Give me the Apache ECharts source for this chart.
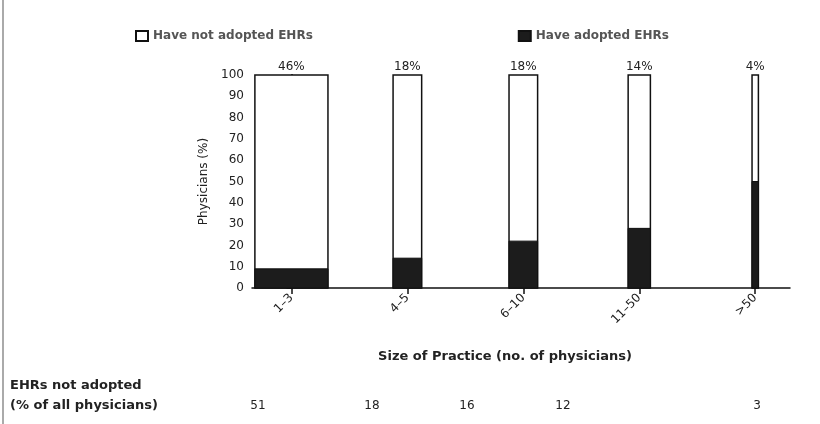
<!DOCTYPE html>
<html>
<head>
<meta charset="utf-8">
<script src="https://cdn.jsdelivr.net/npm/echarts@6/dist/echarts.min.js"></script>
<style>
  html, body { margin: 0; padding: 0; background: #fff; }
  #chart { width: 820px; height: 424px; }
</style>
</head>
<body>
<div id="chart"></div>
<script>
// practice size groups
var sizes = ['1\u20133', '4\u20135', '6\u201310', '11\u201350', '>50'];
// share of physicians in each group (bar width), %
var shares = [46, 18, 18, 14, 4];
// physicians that have adopted EHRs, %
var adopted = [9, 14, 22, 28, 50];
// EHRs not adopted, % of all physicians
var notAdoptedAll = [51, 18, 16, 12, 3];
var yTicks = [0, 100, 10]; // min, max, step

var chart = echarts.init(document.getElementById('chart'));
var font = 'DejaVu Sans';

function barItem(topKey) {
    return function (params, api) {
        var i = api.value(0);
        var top = api.value(1);
        var w = api.size([api.value(2) * 0.0137, 0])[0];
        var p0 = api.coord([i, 0]);
        var p1 = api.coord([i, top]);
        var children = [{
            type: 'rect',
            shape: { x: p0[0] - w / 2, y: p1[1], width: w, height: p0[1] - p1[1] },
            style: api.style()
        }];
        if (topKey) {
            children.push({
                type: 'text',
                style: {
                    text: shares[params.dataIndex] + '%',
                    x: p0[0], y: p1[1] - 2,
                    align: 'center', verticalAlign: 'bottom',
                    font: '12px ' + font, fill: '#222'
                }
            });
        }
        return { type: 'group', children: children };
    };
}

var graphics = [
    { type: 'line', shape: { x1: 3, y1: 0, x2: 3, y2: 424 }, style: { stroke: '#aaa', lineWidth: 2 } },
    { type: 'text', left: 10, top: 376, style: { text: 'EHRs not adopted\n(% of all physicians)', font: 'bold 13px ' + font, fill: '#222', lineHeight: 20 } }
];
var tableX = [258, 372, 467, 563, 757];
notAdoptedAll.forEach(function (v, i) {
    graphics.push({ type: 'text', x: tableX[i], y: 406, style: { text: String(v), font: '12px ' + font, fill: '#222', align: 'center', verticalAlign: 'middle' } });
});

var option = {
    backgroundColor: '#fff',
    animation: false,
    legend: {
        left: 130, top: 25,
        itemGap: 205, itemWidth: 12, itemHeight: 10,
        icon: 'rect',
        textStyle: { fontFamily: font, fontSize: 12, fontWeight: 'bold', color: '#555' },
        data: ['Have not adopted EHRs', 'Have adopted EHRs']
    },
    grid: { left: 252, right: 30, top: 75, bottom: 136 },
    xAxis: {
        type: 'value',
        min: -0.34, max: 4.3,
        splitLine: { show: false },
        axisLine: { lineStyle: { color: '#111', width: 1.5 } },
        axisTick: { show: true, customValues: [0, 1, 2, 3, 4], length: 6, lineStyle: { color: '#111', width: 1.5 } },
        axisLabel: {
            customValues: [0, 1, 2, 3, 4], rotate: 45, margin: 8,
            formatter: function (v) { return sizes[Math.round(v)]; },
            fontFamily: font, fontSize: 12, color: '#222'
        },
        name: 'Size of Practice (no. of physicians)',
        nameLocation: 'middle', nameGap: 62,
        nameTextStyle: { fontFamily: font, fontSize: 13, fontWeight: 'bold', color: '#222', padding: [0, 32, 0, 0] }
    },
    yAxis: {
        type: 'value',
        min: yTicks[0], max: yTicks[1], interval: yTicks[2],
        splitLine: { show: false },
        axisLine: { show: true, lineStyle: { color: '#111', width: 2 } },
        axisTick: { show: true, length: 5, lineStyle: { color: '#111' } },
        axisLabel: { fontFamily: font, fontSize: 12, color: '#222', margin: 8 },
        name: 'Physicians (%)',
        nameLocation: 'middle', nameGap: 40,
        nameTextStyle: { fontFamily: font, fontSize: 12, color: '#222' }
    },
    graphic: graphics,
    series: [
        {
            name: 'Have not adopted EHRs',
            type: 'custom',
            renderItem: barItem(true),
            itemStyle: { color: '#fff', borderColor: '#111', borderWidth: 1.5 },
            encode: { x: 0, y: 1 },
            data: sizes.map(function (s, i) { return [i, 100, shares[i]]; }),
            z: 2
        },
        {
            name: 'Have adopted EHRs',
            type: 'custom',
            renderItem: barItem(false),
            itemStyle: { color: '#1c1c1c', borderColor: '#111', borderWidth: 1 },
            encode: { x: 0, y: 1 },
            data: sizes.map(function (s, i) { return [i, adopted[i], shares[i]]; }),
            z: 3
        }
    ]
};
chart.setOption(option);
</script>
</body>
</html>
